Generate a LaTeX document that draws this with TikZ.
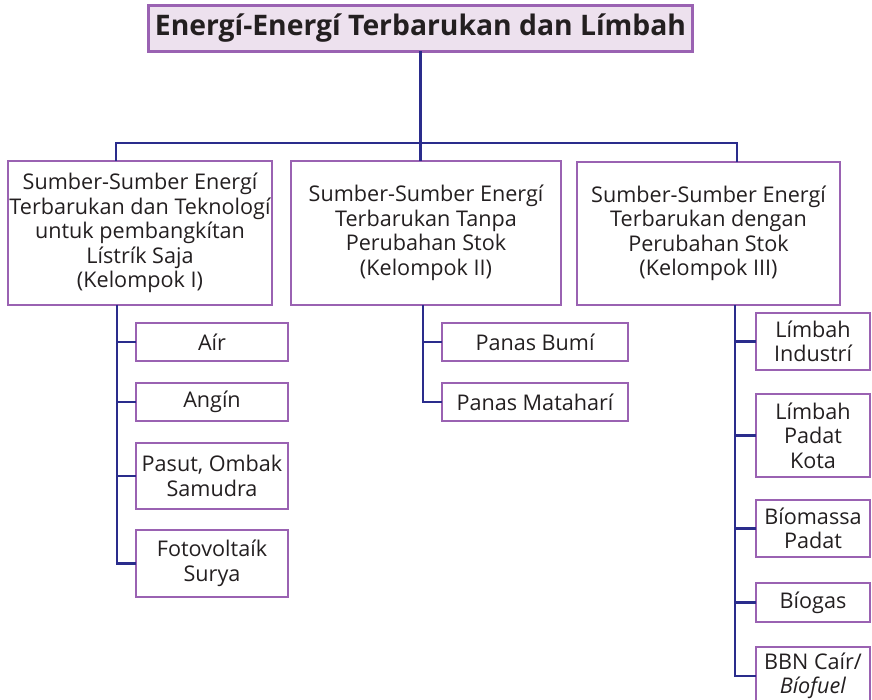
\documentclass[tikz,border=0pt]{standalone}
\usepackage{fontspec}
\setmainfont{Open Sans}
\definecolor{boxline}{HTML}{9A62B2}
\definecolor{titlefill}{HTML}{EDE1EE}
\definecolor{wire}{HTML}{2A2C8C}
\definecolor{ink}{HTML}{231F20}
\tikzset{
  box/.style={draw=boxline, line width=2.8pt, inner sep=0pt, outer sep=0pt,
    align=center, text=ink, font=\fontsize{21.6}{24.5}\selectfont},
  titlebox/.style={box, fill=titlefill, font=\fontsize{28.3}{32}\selectfont\bfseries},
  wireline/.style={draw=wire, line width=2.5pt}
}
\begin{document}
\begin{tikzpicture}[x=1pt, y=-1pt]
  \useasboundingbox (0,0) rectangle (872,700);
  \clip (0,0) rectangle (872,700);

  % top
  \node[titlebox, minimum width=544pt, minimum height=46pt] (title) at (420.5,28.5)
    {Energí-Energí Terbarukan dan Límbah};

  % three groups
  \node[box, minimum width=264pt, minimum height=144pt] (g1) at (140,233)
    {Sumber-Sumber Energí\\Terbarukan dan Teknologí\\untuk pembangkítan\\Lístrík Saja\\(Kelompok I)};
  \node[box, minimum width=270pt, minimum height=144pt] (g2) at (426,233)
    {Sumber-Sumber Energí\\Terbarukan Tanpa\\Perubahan Stok\\(Kelompok II)};
  \node[box, minimum width=263pt, minimum height=143pt] (g3) at (708.5,233.5)
    {Sumber-Sumber Energí\\Terbarukan dengan\\Perubahan Stok\\(Kelompok III)};

  % group I items
  \node[box, minimum width=152pt, minimum height=38pt] (air) at (212,342) {Aír};
  \node[box, minimum width=152pt, minimum height=38pt] (angin) at (212,402) {Angín};
  \node[box, minimum width=152pt, minimum height=66pt] (pasut) at (212,476) {Pasut, Ombak\\Samudra};
  \node[box, minimum width=152pt, minimum height=67pt] (foto) at (212,563.5) {Fotovoltaík\\Surya};

  % group II items
  \node[box, minimum width=186pt, minimum height=38pt] (bumi) at (535,342) {Panas Bumí};
  \node[box, minimum width=186pt, minimum height=38pt] (surya) at (535,402) {Panas Mataharí};

  % group III items
  \node[box, minimum width=114pt, minimum height=57pt] (industri) at (813,341.5) {Límbah\\Industrí};
  \node[box, minimum width=114pt, minimum height=83pt] (kota) at (813,435.5) {Límbah\\Padat\\Kota};
  \node[box, minimum width=114pt, minimum height=57pt] (biomassa) at (813,528.5) {Bíomassa\\Padat};
  \node[box, minimum width=114pt, minimum height=39pt] (biogas) at (813,602.5) {Bíogas};
  \node[box, minimum width=114pt, minimum height=58pt] (bbn) at (813,676) {BBN Caír/\\\textit{Bíofuel}};

  % bus from the top box to the groups
  \coordinate (bus1) at (116,143);
  \coordinate (bus3) at (737,143);
  \draw[wireline] (title.south) -- (title.south |- g2.north);
  \draw[wireline] (bus1 |- g1.north) -- (bus1) -- (bus3) -- (bus3 |- g3.north);

  % group I spine
  \coordinate (s1) at (117,305);
  \draw[wireline] (s1) |- (foto.west);
  \foreach \n in {air,angin,pasut} \draw[wireline] (s1 |- \n.west) -- (\n.west);

  % group II spine
  \coordinate (s2) at (423,305);
  \draw[wireline] (s2) |- (surya.west);
  \draw[wireline] (s2 |- bumi.west) -- (bumi.west);

  % group III spine
  \coordinate (s3) at (735,305);
  \draw[wireline] (s3) |- (bbn.west);
  \foreach \n in {industri,kota,biomassa,biogas} \draw[wireline] (s3 |- \n.west) -- (\n.west);
\end{tikzpicture}
\end{document}
